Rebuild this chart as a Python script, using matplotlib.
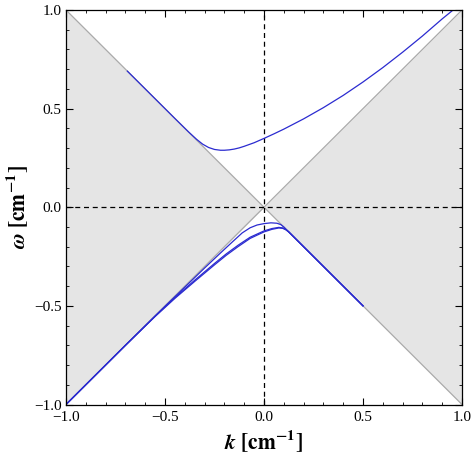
import numpy as np
import matplotlib
matplotlib.use("Agg")
import matplotlib.pyplot as plt

plt.rcParams['font.family'] = ['Liberation Serif', 'DejaVu Serif']
plt.rcParams['mathtext.fontset'] = 'stix'

# upper branch
up_k = [-0.69, -0.45, -0.38, -0.34, -0.31, -0.28, -0.25, -0.22, -0.2, -0.175, -0.15, -0.125, -0.1, -0.05,
        0.0, 0.05, 0.1, 0.2, 0.3, 0.4, 0.5, 0.6, 0.7, 0.8, 0.9, 0.955]
up_w = [0.69, 0.45, 0.381, 0.344, 0.320, 0.303, 0.293, 0.289, 0.289, 0.291, 0.295, 0.301, 0.309, 0.327,
        0.349, 0.372, 0.396, 0.448, 0.505, 0.567, 0.635, 0.708, 0.786, 0.868, 0.955, 1.0]

# lower branches
lowA_k = [-1.0, -0.7, -0.5, -0.4, -0.3, -0.22, -0.16, -0.11, -0.07, -0.035, 0.0, 0.035,
          0.065, 0.085, 0.1, 0.115, 0.3, 0.5]
lowA_w = [-1.0, -0.7, -0.502, -0.405, -0.308, -0.232, -0.176, -0.130, -0.104, -0.090, -0.083,
          -0.079, -0.081, -0.088, -0.1, -0.115, -0.3, -0.5]

lowB_k = [-1.0, -0.7, -0.55, -0.45, -0.35, -0.25, -0.19, -0.13, -0.07, 0.0, 0.04, 0.075,
          0.095, 0.11, 0.125, 0.3, 0.5]
lowB_w = [-1.0, -0.7, -0.552, -0.458, -0.37, -0.285, -0.236, -0.192, -0.152, -0.12, -0.108,
          -0.102, -0.105, -0.113, -0.125, -0.3, -0.5]
lowC_w = [-1.0, -0.7, -0.554, -0.462, -0.376, -0.292, -0.243, -0.199, -0.158, -0.125, -0.112,
          -0.105, -0.107, -0.114, -0.125, -0.3, -0.5]

ticks = [-1.0, -0.5, 0.0, 0.5, 1.0]
tick_labels = ['\u22121.0', '\u22120.5', '0.0', '0.5', '1.0']

fig = plt.figure(figsize=(4.72, 4.57), dpi=100)
ax = fig.add_axes([66/472, 52.5/457, 396/472, 394.5/457])

# light cone shading
kk = np.array([-1.0, 0.0, 1.0])
ax.fill_between(kk, -np.abs(kk), np.abs(kk), color='#e5e5e5', lw=0)
ax.plot([-1, 1], [-1, 1], color='#aaaaaa', lw=0.9)
ax.plot([-1, 1], [1, -1], color='#aaaaaa', lw=0.9)

ax.axhline(0, color='black', lw=0.9, ls=(0, (4, 3)))
ax.axvline(0, color='black', lw=0.9, ls=(0, (4, 3)))

blue = '#2b2bd0'
ax.plot(up_k, up_w, color=blue, lw=0.9)
ax.plot(lowA_k, lowA_w, color=blue, lw=0.9)
ax.plot(lowB_k, lowB_w, color=blue, lw=0.9)
ax.plot(lowB_k, lowC_w, color=blue, lw=0.9)

ax.set_xlim(-1, 1)
ax.set_ylim(-1, 1)
ax.set_xticks(ticks)
ax.set_xticklabels(tick_labels)
ax.set_yticks(ticks)
ax.set_yticklabels(tick_labels)
ax.set_xticks(np.arange(-1, 1.01, 0.1), minor=True)
ax.set_yticks(np.arange(-1, 1.01, 0.1), minor=True)
ax.tick_params(which='both', direction='in', top=True, right=True, labelsize=11)
ax.tick_params(axis='x', pad=5)
ax.tick_params(axis='y', pad=3)
ax.tick_params(which='major', length=5, width=0.8)
ax.tick_params(which='minor', length=2.5, width=0.6)
for s in ax.spines.values():
    s.set_linewidth(0.9)

ax.set_xlabel(r'$\boldsymbol{k}$ $\mathbf{[cm^{-1}]}$', fontsize=15.5, labelpad=2)
ax.set_ylabel(r'$\boldsymbol{\omega}$ $\mathbf{[cm^{-1}]}$', fontsize=15.5, labelpad=3)

fig.savefig('out.png', dpi=100)
